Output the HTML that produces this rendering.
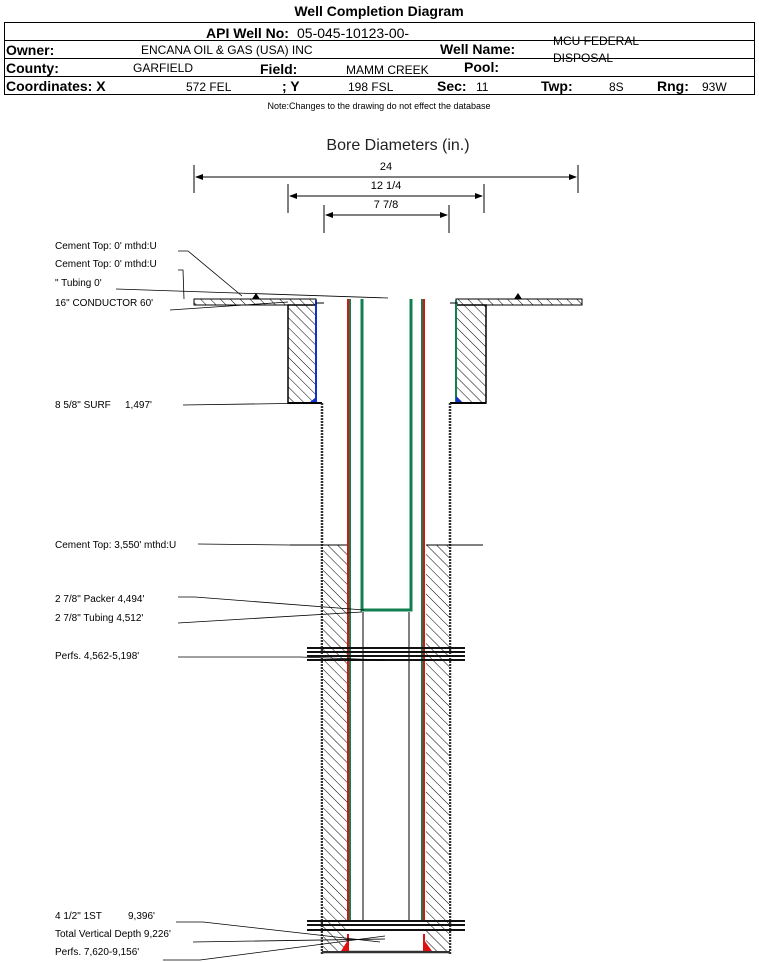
<!DOCTYPE html>
<html><head><meta charset="utf-8"><style>
body{margin:0;background:#fff;}
svg{display:block;font-family:"Liberation Sans",Arial,sans-serif;}
</style></head><body>
<svg width="759" height="962" viewBox="0 0 759 962" xmlns="http://www.w3.org/2000/svg">
<defs>
<pattern id="h" width="7" height="7" patternUnits="userSpaceOnUse" patternTransform="rotate(-45)">
<rect width="7" height="7" fill="#fff"/><line x1="0" y1="0" x2="0" y2="7" stroke="#000" stroke-width="1"/>
</pattern>
</defs>
<!-- header -->
<text x="379" y="16" font-size="14" font-weight="bold" text-anchor="middle">Well Completion Diagram</text>
<rect x="4.5" y="22.5" width="750" height="72" fill="none" stroke="#000"/>
<line x1="4" y1="40.5" x2="755" y2="40.5" stroke="#000"/>
<line x1="4" y1="58.5" x2="755" y2="58.5" stroke="#000"/>
<line x1="4" y1="76.5" x2="755" y2="76.5" stroke="#000"/>
<g font-size="14" font-weight="bold">
<text x="206" y="38">API Well No:</text>
<text x="6" y="55">Owner:</text>
<text x="440" y="54">Well Name:</text>
<text x="6" y="73">County:</text>
<text x="260" y="74">Field:</text>
<text x="464" y="72">Pool:</text>
<text x="6" y="91">Coordinates: X</text>
<text x="282" y="91">; Y</text>
<text x="437" y="91">Sec:</text>
<text x="541" y="91">Twp:</text>
<text x="657" y="91">Rng:</text>
</g>
<g font-size="12">
<text x="297" y="38" font-size="14">05-045-10123-00-</text>
<text x="141" y="54">ENCANA OIL &amp; GAS (USA) INC</text>
<text x="553" y="45">MCU FEDERAL</text>
<text x="553" y="62">DISPOSAL</text>
<text x="133" y="72">GARFIELD</text>
<text x="346" y="74">MAMM CREEK</text>
<text x="186" y="91">572 FEL</text>
<text x="348" y="91">198 FSL</text>
<text x="476" y="91">11</text>
<text x="609" y="91">8S</text>
<text x="702" y="91">93W</text>
</g>
<text x="379" y="109" font-size="9" text-anchor="middle">Note:Changes to the drawing do not effect the database</text>

<!-- bore diameters -->
<text x="398" y="150" font-size="16" text-anchor="middle" fill="#222">Bore Diameters (in.)</text>
<g stroke="#000" fill="none">
<line x1="194" y1="165" x2="194" y2="193"/><line x1="578" y1="165" x2="578" y2="193"/><line x1="196" y1="177" x2="576" y2="177"/>
<line x1="288" y1="184" x2="288" y2="213"/><line x1="484" y1="184" x2="484" y2="213"/><line x1="290" y1="196" x2="482" y2="196"/>
<line x1="324" y1="205" x2="324" y2="233"/><line x1="449" y1="205" x2="449" y2="233"/><line x1="326" y1="215" x2="447" y2="215"/>
</g>
<g fill="#000">
<polygon points="195,177 203,174 203,180"/><polygon points="577,177 569,174 569,180"/>
<polygon points="289,196 297,193 297,199"/><polygon points="483,196 475,193 475,199"/>
<polygon points="325,215 333,212 333,218"/><polygon points="448,215 440,212 440,218"/>
</g>
<g font-size="11" text-anchor="middle"><text x="386" y="170">24</text><text x="386" y="189">12 1/4</text><text x="386" y="208">7 7/8</text></g>

<!-- conductor flanges & hatched -->
<rect x="194" y="299" width="122" height="6" fill="url(#h)" stroke="#000"/>
<rect x="456" y="299" width="126" height="6" fill="url(#h)" stroke="#000"/>
<rect x="288" y="305" width="28" height="98" fill="url(#h)" stroke="#000" stroke-width="1.5"/>
<rect x="456" y="305" width="30" height="98" fill="url(#h)" stroke="#000" stroke-width="1.5"/>
<line x1="316" y1="300" x2="316" y2="403" stroke="#1030d0" stroke-width="2"/>
<line x1="456" y1="300" x2="456" y2="403" stroke="#108050" stroke-width="2"/>
<polygon points="316,397 316,403 309,403" fill="#1030d0"/>
<polygon points="456,396 456,403 463,403" fill="#1030d0"/>
<polygon points="252,299 256,293 260,299" fill="#000"/>
<polygon points="514,299 518,293 522,299" fill="#000"/>
<line x1="288" y1="403" x2="322" y2="403" stroke="#000" stroke-width="2"/>
<line x1="450" y1="403" x2="486" y2="403" stroke="#000" stroke-width="2"/>
<line x1="316" y1="303" x2="324" y2="303" stroke="#000"/>
<line x1="450" y1="303" x2="458" y2="303" stroke="#000"/>

<!-- hole walls -->
<line x1="322" y1="403" x2="322" y2="955" stroke="#333" stroke-width="2.5" stroke-dasharray="2,1"/>
<line x1="450" y1="403" x2="450" y2="955" stroke="#333" stroke-width="2.5" stroke-dasharray="2,1"/>
<line x1="322" y1="952" x2="450" y2="952" stroke="#333" stroke-width="2.5"/>
<!-- cement -->
<rect x="323" y="545" width="24" height="406" fill="url(#h)"/>
<rect x="426" y="545" width="23" height="406" fill="url(#h)"/>
<line x1="290" y1="545" x2="347" y2="545" stroke="#000"/>
<line x1="426" y1="545" x2="483" y2="545" stroke="#000"/>
<!-- production casing -->
<g stroke-width="2">
<line x1="348" y1="299" x2="348" y2="921" stroke="#e01010"/><line x1="350" y1="299" x2="350" y2="921" stroke="#108050"/>
<line x1="424" y1="299" x2="424" y2="921" stroke="#e01010"/><line x1="422" y1="299" x2="422" y2="921" stroke="#108050"/>
<line x1="348" y1="934" x2="348" y2="951" stroke="#e01010"/><line x1="424" y1="934" x2="424" y2="951" stroke="#e01010"/>
</g>
<polygon points="341,951 348,940 349,951" fill="#e01010"/>
<polygon points="424,940 432,951 424,951" fill="#e01010"/>
<!-- tubing -->
<path d="M362,299 V610 H411 V299" fill="none" stroke="#108050" stroke-width="3"/>
<line x1="363" y1="612" x2="363" y2="921" stroke="#000"/>
<line x1="409" y1="612" x2="409" y2="921" stroke="#000"/>
<!-- perfs -->
<g stroke="#111" stroke-width="2">
<line x1="307" y1="648" x2="465" y2="648"/><line x1="307" y1="652" x2="465" y2="652"/>
<line x1="307" y1="656" x2="465" y2="656"/><line x1="307" y1="660" x2="465" y2="660"/>
<line x1="307" y1="921" x2="465" y2="921"/><line x1="307" y1="925" x2="465" y2="925"/><line x1="307" y1="930" x2="465" y2="930"/>
</g>

<!-- labels -->
<g font-size="10">
<text x="55" y="249">Cement Top: 0' mthd:U</text>
<text x="55" y="267">Cement Top: 0' mthd:U</text>
<text x="55" y="286">" Tubing 0'</text>
<text x="55" y="306">16" CONDUCTOR  60'</text>
<text x="55" y="408">8 5/8" SURF</text><text x="125" y="408">1,497'</text>
<text x="55" y="548">Cement Top: 3,550' mthd:U</text>
<text x="55" y="602">2 7/8" Packer 4,494'</text>
<text x="55" y="621">2 7/8" Tubing 4,512'</text>
<text x="55" y="659">Perfs. 4,562-5,198'</text>
<text x="55" y="919">4 1/2" 1ST</text><text x="128" y="919">9,396'</text>
<text x="55" y="937">Total Vertical Depth 9,226'</text>
<text x="55" y="955">Perfs. 7,620-9,156'</text>
</g>
<g stroke="#000" fill="none" stroke-width="0.8">
<polyline points="178,251 188,251 242,296"/>
<polyline points="178,270 183,270 184,299"/>
<polyline points="116,289 388,298"/>
<polyline points="170,310 288,302"/>
<polyline points="183,405 320,403"/>
<polyline points="198,544 290,545"/>
<polyline points="178,597 195,597 364,610"/>
<polyline points="178,623 362,612"/>
<polyline points="178,657 300,657 385,660"/>
<polyline points="176,922 203,922 380,942"/>
<polyline points="193,942 385,939"/>
<polyline points="163,960 200,960 385,936"/>
</g>
</svg>
</body></html>
